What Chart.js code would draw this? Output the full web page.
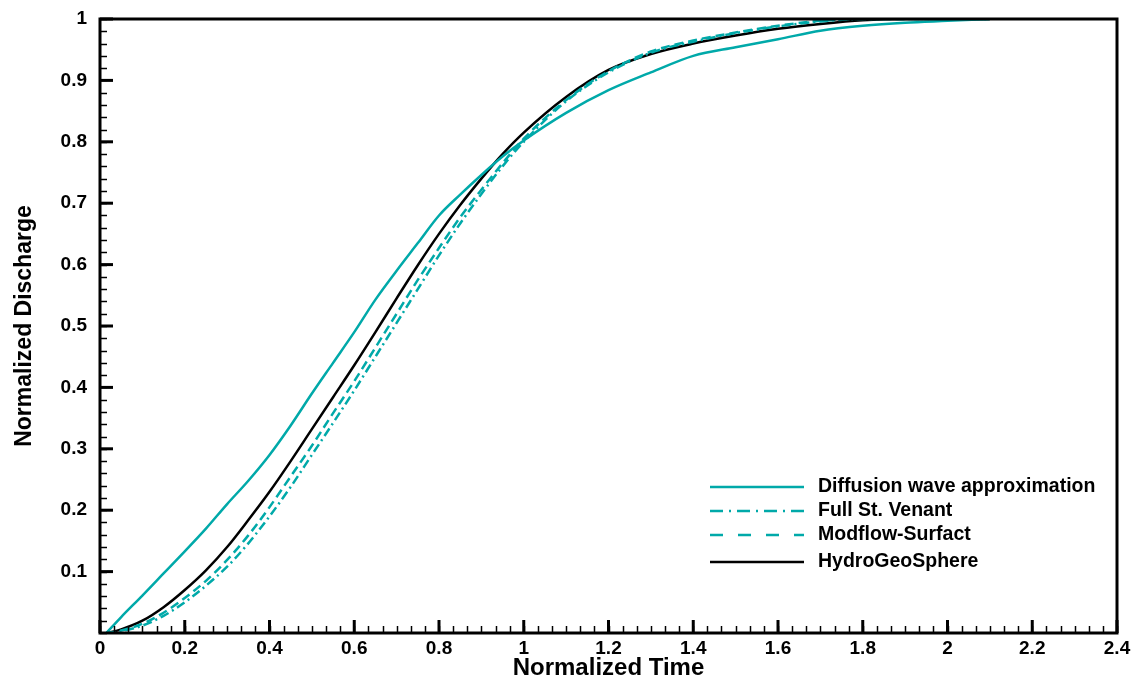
<!DOCTYPE html>
<html>
<head>
<meta charset="utf-8">
<title>Normalized Discharge</title>
<script src="https://cdn.jsdelivr.net/npm/chart.js@4.4.1/dist/chart.umd.min.js"></script>
<style>
  html, body { margin: 0; padding: 0; background: #fff; }
  #wrap { width: 1142px; height: 683px; }
</style>
</head>
<body>
<div id="wrap"><canvas id="myChart" width="1142" height="683"></canvas></div>
<script>
// normalized time (x) shared by all series
const timeValues = [0.015, 0.05, 0.1, 0.15, 0.2, 0.25, 0.3, 0.35, 0.4, 0.45, 0.5, 0.55, 0.6, 0.65, 0.7, 0.75, 0.8, 0.85, 0.9, 0.95, 1.0, 1.1, 1.2, 1.3, 1.4, 1.5, 1.6, 1.7, 1.8, 1.9, 2.0, 2.1];

// normalized discharge
const diffusionWave  = [0, 0.026, 0.061, 0.097, 0.133, 0.17, 0.21, 0.248, 0.29, 0.338, 0.39, 0.44, 0.49, 0.543, 0.59, 0.635, 0.68, 0.714, 0.746, 0.776, 0.802, 0.847, 0.884, 0.913, 0.94, 0.954, 0.967, 0.981, 0.989, 0.994, 0.997, 1.0];
const fullStVenant   = [0, 0.003, 0.012, 0.028, 0.05, 0.077, 0.108, 0.146, 0.19, 0.238, 0.29, 0.342, 0.395, 0.45, 0.505, 0.56, 0.615, 0.667, 0.715, 0.76, 0.8, 0.866, 0.913, 0.945, 0.963, 0.977, 0.988, 0.996, 1.0, 1.0, 1.0, 1.0];
const modflowSurface = [0, 0.004, 0.015, 0.033, 0.057, 0.085, 0.119, 0.159, 0.205, 0.255, 0.305, 0.358, 0.41, 0.465, 0.52, 0.575, 0.627, 0.677, 0.722, 0.765, 0.805, 0.868, 0.915, 0.947, 0.965, 0.978, 0.989, 0.997, 1.0, 1.0, 1.0, 1.0];
const hydroGeoSphere = [0, 0.006, 0.02, 0.042, 0.07, 0.102, 0.14, 0.184, 0.23, 0.28, 0.332, 0.384, 0.436, 0.49, 0.545, 0.599, 0.65, 0.697, 0.74, 0.78, 0.815, 0.873, 0.917, 0.943, 0.96, 0.973, 0.984, 0.992, 0.998, 1.0, 1.0, 1.0];

const xTicks = [0, 0.2, 0.4, 0.6, 0.8, 1, 1.2, 1.4, 1.6, 1.8, 2, 2.2, 2.4];
const yTicks = [0.1, 0.2, 0.3, 0.4, 0.5, 0.6, 0.7, 0.8, 0.9, 1];

const teal = "#00a9a9";
const fontFamily = "'Liberation Sans', Arial, sans-serif";

function toPoints(values) {
    return timeValues.map(function (t, i) { return { x: t, y: values[i] }; });
}

// frame, inward tick marks and legend
const framePlugin = {
    id: "frame",
    afterDraw: function (chart) {
        const ctx = chart.ctx;
        const area = chart.chartArea;
        const xs = chart.scales.x;
        const ys = chart.scales.y;
        ctx.save();
        ctx.strokeStyle = "#000";

        // minor ticks
        ctx.lineWidth = 1.5;
        for (let i = 0; i <= 72; i++) {
            const px = Math.round(xs.getPixelForValue(i * 2.4 / 72)) + 0.5;
            ctx.beginPath();
            ctx.moveTo(px, area.bottom);
            ctx.lineTo(px, area.bottom - 7);
            ctx.stroke();
        }
        for (let i = 0; i <= 50; i++) {
            const py = Math.round(ys.getPixelForValue(i * 0.02)) + 0.5;
            ctx.beginPath();
            ctx.moveTo(area.left, py);
            ctx.lineTo(area.left + 7, py);
            ctx.stroke();
        }
        // major ticks
        ctx.lineWidth = 3;
        xTicks.forEach(function (v) {
            const px = xs.getPixelForValue(v);
            ctx.beginPath();
            ctx.moveTo(px, area.bottom);
            ctx.lineTo(px, area.bottom - 13);
            ctx.stroke();
        });
        yTicks.forEach(function (v) {
            const py = ys.getPixelForValue(v);
            ctx.beginPath();
            ctx.moveTo(area.left, py);
            ctx.lineTo(area.left + 13, py);
            ctx.stroke();
        });
        // box
        ctx.lineWidth = 3;
        ctx.strokeRect(area.left, area.top, area.right - area.left, area.bottom - area.top);

        // legend
        const rows = [487, 511, 535, 562];
        ctx.font = "bold 19.5px " + fontFamily;
        ctx.textBaseline = "middle";
        ctx.fillStyle = "#000";
        chart.data.datasets.forEach(function (ds, i) {
            ctx.strokeStyle = ds.borderColor;
            ctx.lineWidth = ds.borderWidth;
            ctx.setLineDash(ds.legendDash || []);
            ctx.beginPath();
            ctx.moveTo(710, rows[i]);
            ctx.lineTo(804, rows[i]);
            ctx.stroke();
            ctx.setLineDash([]);
            ctx.fillText(ds.label, 818, rows[i]);
        });
        ctx.restore();
    }
};

new Chart(document.getElementById("myChart"), {
    type: "line",
    data: {
        datasets: [
            { label: "Diffusion wave approximation", data: toPoints(diffusionWave), borderColor: teal, borderWidth: 2.5, legendDash: [] },
            { label: "Full St. Venant", data: toPoints(fullStVenant), borderColor: teal, borderWidth: 2.5, borderDash: [9, 4, 2, 4], legendDash: [13, 6, 2, 6] },
            { label: "Modflow-Surfact", data: toPoints(modflowSurface), borderColor: teal, borderWidth: 2.5, borderDash: [9, 5], legendDash: [13, 15] },
            { label: "HydroGeoSphere", data: toPoints(hydroGeoSphere), borderColor: "#000", borderWidth: 2.5, legendDash: [] }
        ]
    },
    options: {
        responsive: false,
        animation: false,
        elements: {
            point: { radius: 0 },
            line: { fill: false, cubicInterpolationMode: "monotone" }
        },
        layout: { padding: { top: 19, right: 25, left: 0, bottom: 0 } },
        plugins: {
            legend: { display: false },
            tooltip: { enabled: false }
        },
        scales: {
            x: {
                type: "linear",
                min: 0,
                max: 2.4,
                afterFit: function (scale) { scale.height = 50; },
                afterBuildTicks: function (scale) { scale.ticks = xTicks.map(function (v) { return { value: v }; }); },
                grid: { display: false, drawTicks: false },
                border: { display: false },
                ticks: {
                    padding: 4,
                    color: "#000",
                    font: { family: fontFamily, size: 19, weight: "bold" },
                    maxRotation: 0,
                    callback: function (v) { return String(Number(v.toFixed(1))); }
                },
                title: {
                    display: true,
                    text: "Normalized Time",
                    color: "#000",
                    padding: { top: 0, bottom: 0 },
                    font: { family: fontFamily, size: 24, weight: "bold" }
                }
            },
            y: {
                type: "linear",
                min: 0,
                max: 1,
                afterFit: function (scale) {
                    scale.width = 100;
                    scale.paddingTop = 0;
                    scale.paddingBottom = 0;
                },
                afterBuildTicks: function (scale) { scale.ticks = yTicks.map(function (v) { return { value: v }; }); },
                grid: { display: false, drawTicks: false },
                border: { display: false },
                ticks: {
                    padding: 13,
                    color: "#000",
                    font: { family: fontFamily, size: 19, weight: "bold" },
                    callback: function (v) { return String(Number(v.toFixed(1))); }
                },
                title: {
                    display: true,
                    text: "Normalized Discharge",
                    color: "#000",
                    padding: { top: 11, bottom: 0 },
                    font: { family: fontFamily, size: 23, weight: "bold" }
                }
            }
        }
    },
    plugins: [framePlugin]
});
</script>
</body>
</html>
